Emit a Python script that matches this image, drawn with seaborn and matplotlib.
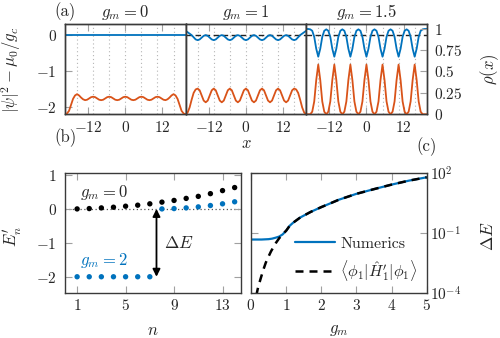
import numpy as np
import matplotlib
matplotlib.use("Agg")
import matplotlib.pyplot as plt
import seaborn as sns

sns.set_style("ticks")
plt.rcParams.update({
    "font.family": "serif",
    "font.serif": ["cmr10"],
    "mathtext.fontset": "cm",
    "axes.formatter.use_mathtext": True,
    "axes.unicode_minus": True,
    "font.size": 11,
})

BLUE = "#0072BD"
ORANGE = "#D95319"
SPINE = "#3a3a3a"
TICK = "#a0a0a0"

# ---------------- (a) density profiles ----------------
x_grid = np.linspace(-19.5, 19.5, 61)
lattice_sites = [-15.6, -10.4, -5.2, 0.0, 5.2, 10.4, 15.6]
gm_profiles = ["0", "1", "1.5"]

# |psi|^2 - mu0/gc
psi_gm0 = [0.0] * 61
psi_gm1 = [0.12, 0.08, 0.04, 0.00, -0.06, -0.12, -0.14,
           -0.12, -0.07, -0.02, 0.00, -0.02, -0.07, -0.12, -0.14,
           -0.12, -0.07, -0.02, 0.00, -0.02, -0.07, -0.12, -0.14,
           -0.12, -0.07, -0.02, 0.00, -0.02, -0.07, -0.12,
           -0.14,
           -0.12, -0.07, -0.02, 0.00, -0.02, -0.07, -0.12, -0.14,
           -0.12, -0.07, -0.02, 0.00, -0.02, -0.07, -0.12, -0.14,
           -0.12, -0.07, -0.02, 0.00, -0.02, -0.07, -0.12, -0.14,
           -0.12, -0.06, 0.00, 0.04, 0.08, 0.12]
psi_gm15 = [0.17, 0.17, 0.16, 0.12, -0.05, -0.38, -0.60,
            -0.38, -0.05, 0.12, 0.16, 0.12, -0.05, -0.38, -0.60,
            -0.38, -0.05, 0.12, 0.16, 0.12, -0.05, -0.38, -0.60,
            -0.38, -0.05, 0.12, 0.16, 0.12, -0.05, -0.38,
            -0.60,
            -0.38, -0.05, 0.12, 0.16, 0.12, -0.05, -0.38, -0.60,
            -0.38, -0.05, 0.12, 0.16, 0.12, -0.05, -0.38, -0.60,
            -0.38, -0.05, 0.12, 0.16, 0.12, -0.05, -0.38, -0.60,
            -0.38, -0.05, 0.12, 0.16, 0.17, 0.17]

# rho(x)
rho_gm0 = [0.00, 0.01, 0.04, 0.11, 0.18, 0.22, 0.235,
           0.22, 0.195, 0.175, 0.165, 0.17, 0.185, 0.20, 0.205,
           0.20, 0.185, 0.17, 0.165, 0.17, 0.185, 0.20, 0.205,
           0.20, 0.185, 0.17, 0.165, 0.17, 0.185, 0.20,
           0.205,
           0.20, 0.185, 0.17, 0.165, 0.17, 0.185, 0.20, 0.205,
           0.20, 0.185, 0.17, 0.165, 0.17, 0.185, 0.20, 0.205,
           0.20, 0.185, 0.17, 0.165, 0.175, 0.195, 0.22, 0.235,
           0.22, 0.18, 0.11, 0.04, 0.01, 0.00]
rho_gm1 = [0.00, 0.02, 0.08, 0.17, 0.25, 0.29, 0.30,
           0.28, 0.22, 0.16, 0.14, 0.16, 0.22, 0.28, 0.30,
           0.28, 0.22, 0.16, 0.14, 0.16, 0.22, 0.28, 0.30,
           0.28, 0.22, 0.16, 0.14, 0.16, 0.22, 0.28,
           0.30,
           0.28, 0.22, 0.16, 0.14, 0.16, 0.22, 0.28, 0.30,
           0.28, 0.22, 0.16, 0.14, 0.16, 0.22, 0.28, 0.30,
           0.28, 0.22, 0.16, 0.14, 0.16, 0.22, 0.28, 0.30,
           0.29, 0.25, 0.17, 0.08, 0.02, 0.00]
rho_gm15 = [0.00, 0.00, 0.00, 0.03, 0.15, 0.40, 0.58,
            0.40, 0.15, 0.03, 0.00, 0.03, 0.15, 0.40, 0.58,
            0.40, 0.15, 0.03, 0.00, 0.03, 0.15, 0.40, 0.58,
            0.40, 0.15, 0.03, 0.00, 0.03, 0.15, 0.40,
            0.58,
            0.40, 0.15, 0.03, 0.00, 0.03, 0.15, 0.40, 0.58,
            0.40, 0.15, 0.03, 0.00, 0.03, 0.15, 0.40, 0.58,
            0.40, 0.15, 0.03, 0.00, 0.03, 0.15, 0.40, 0.58,
            0.40, 0.15, 0.03, 0.00, 0.00, 0.00]

x_ticks_a = [-12, 0, 12]
x_ticklabels_a = ["$-12$", "$0$", "$12$"]
psi_ticks = [-2, -1, 0]
psi_ticklabels = ["$-2$", "$-1$", "$0$"]
rho_ticks = [0, 0.25, 0.5, 0.75, 1]
rho_ticklabels = ["$0$", "$0.25$", "$0.5$", "$0.75$", "$1$"]

# ---------------- (b) spectrum ----------------
n_levels = list(range(1, 15))
E_gm0 = [0.0, 0.01, 0.03, 0.05, 0.08, 0.11, 0.15, 0.20, 0.25, 0.31, 0.37, 0.45, 0.54, 0.63]
E_gm2 = [-2.0, -2.0, -2.0, -2.0, -2.0, -2.0, -2.0, 0.0, 0.01, 0.03, 0.06, 0.10, 0.15, 0.21]
n_ticks = [1, 5, 9, 13]
E_ticks = [-2, -1, 0, 1]
E_ticklabels = ["$-2$", "$-1$", "$0$", "$1$"]

# ---------------- (c) gap ----------------
gm_num = [0.0, 0.3, 0.5, 0.6, 0.7, 0.8, 0.9, 1.0, 1.1, 1.2, 1.4, 1.7, 2.0, 2.2, 2.5,
          3.0, 3.5, 4.0, 4.5, 5.0]
dE_num = [0.047, 0.047, 0.049, 0.052, 0.058, 0.066, 0.085, 0.13, 0.23, 0.33, 0.60, 1.15,
          2.0, 2.8, 4.7, 9.3, 16.0, 27.0, 43.0, 63.0]
gm_pt = [0.15, 0.2, 0.28, 0.35, 0.42, 0.5, 0.57, 0.65, 0.71, 0.8, 0.9, 1.0, 1.1, 1.2,
         1.4, 1.7, 2.0, 2.2, 2.5, 3.0, 3.5, 4.0, 4.5, 5.0]
dE_pt = [7.1e-5, 1.8e-4, 5.5e-4, 1.4e-3, 3.2e-3, 6.6e-3, 0.012, 0.021, 0.032, 0.054,
         0.087, 0.13, 0.23, 0.33, 0.60, 1.15, 2.0, 2.8, 4.7, 9.3, 16.0, 27.0, 43.0, 63.0]
gm_ticks = [0, 1, 2, 3, 4, 5]
dE_ticks = [1e-4, 1e-1, 1e2]
dE_ticklabels = ["$10^{-4}$", "$10^{-1}$", "$10^{2}$"]

W, H = 500, 338
fig = plt.figure(figsize=(W / 100, H / 100), dpi=100)


def px_axes(left, top, right, bottom):
    return fig.add_axes([left / W, 1 - bottom / H, (right - left) / W, (bottom - top) / H])


def style_spines(ax):
    for s in ax.spines.values():
        s.set_color(SPINE)
        s.set_linewidth(1.0)
        s.set_visible(True)


tick_kw = dict(direction="in", color=TICK, length=5, width=0.8, labelsize=11)
LABEL_FS = 12

# ---- panel (a) ----
panel_edges = [65.0, 185.6, 306.2, 426.7]
psi_sets = [psi_gm0, psi_gm1, psi_gm15]
rho_sets = [rho_gm0, rho_gm1, rho_gm15]
for i in range(3):
    ax = px_axes(panel_edges[i], 24.3, panel_edges[i + 1], 114.3)
    axr = ax.twinx()
    for s in lattice_sites:
        ax.axvline(s, color="#b5b5b5", ls=(0, (1, 2.5)), lw=0.8, zorder=0)
    if i > 0:
        ax.axhline(0, color="#222222", ls=(0, (4, 2.5)), lw=1.0, zorder=1)
    sns.lineplot(x=x_grid, y=psi_sets[i], ax=ax, color=BLUE, lw=1.3, zorder=2)
    sns.lineplot(x=x_grid, y=rho_sets[i], ax=axr, color=ORANGE, lw=1.3)
    ax.set_xlim(-19.5, 19.5)
    ax.set_ylim(-2.2, 0.3)
    axr.set_ylim(0, 1.05)
    ax.set_xticks(x_ticks_a)
    ax.set_xticklabels(x_ticklabels_a)
    ax.tick_params(axis="x", top=True, pad=4, **tick_kw)
    ax.set_xlabel("")
    if i == 0:
        ax.set_yticks(psi_ticks)
        ax.set_yticklabels(psi_ticklabels)
        ax.tick_params(axis="y", pad=6, **tick_kw)
        ax.set_ylabel(r"$|\psi|^2-\mu_0/g_c$", fontsize=LABEL_FS)
        ax.yaxis.set_label_coords(-0.35, 0.5)
    else:
        ax.set_yticks([])
        ax.set_ylabel("")
    if i == 2:
        axr.set_yticks(rho_ticks)
        axr.set_yticklabels(rho_ticklabels)
        axr.tick_params(axis="y", pad=5, **tick_kw)
        axr.set_ylabel(r"$\rho(x)$", fontsize=LABEL_FS, rotation=90)
        axr.yaxis.set_label_coords(1.43, 0.5)
    else:
        axr.set_yticks([])
        axr.set_ylabel("")
    style_spines(ax)
    style_spines(axr)
    fig.text((panel_edges[i] + panel_edges[i + 1]) / 2 / W, 1 - 12 / H,
             rf"$g_m = {gm_profiles[i]}$", ha="center", va="center", fontsize=LABEL_FS)

fig.text(54 / W, 1 - 12 / H, "(a)", ha="left", va="center", fontsize=LABEL_FS)
fig.text(246 / W, 1 - 143 / H, "$x$", ha="center", va="center", fontsize=LABEL_FS)
fig.text(54 / W, 1 - 138 / H, "(b)", ha="left", va="center", fontsize=LABEL_FS)
fig.text(416 / W, 1 - 147 / H, "(c)", ha="left", va="center", fontsize=LABEL_FS)

# ---- panel (b) ----
axb = px_axes(65, 173.3, 240.7, 292.7)
axb.axhline(0, color="#555555", ls=(0, (1, 2)), lw=0.9, zorder=0)
sns.scatterplot(x=n_levels, y=E_gm0, ax=axb, color="black", s=15, edgecolor="none", zorder=3)
sns.scatterplot(x=n_levels, y=E_gm2, ax=axb, color=BLUE, s=15, edgecolor="none", zorder=3)
axb.annotate("", xy=(7.55, E_gm0[0]), xytext=(7.55, E_gm2[0]),
             arrowprops=dict(arrowstyle="<|-|>", color="black", lw=1.3,
                             shrinkA=0, shrinkB=0, mutation_scale=11))
axb.text(8.2, -1.0, r"$\Delta E$", ha="left", va="center", fontsize=LABEL_FS + 0.5)
axb.text(1.2, 0.47, r"$g_m = 0$", ha="left", va="center", fontsize=LABEL_FS)
axb.text(1.2, -1.52, r"$g_m = 2$", ha="left", va="center", fontsize=LABEL_FS, color=BLUE)
axb.set_xlim(0, 14.5)
axb.set_ylim(-2.47, 1.05)
axb.set_xticks(n_ticks)
axb.set_xticklabels([f"${t}$" for t in n_ticks])
axb.set_yticks(E_ticks)
axb.set_yticklabels(E_ticklabels)
axb.tick_params(axis="x", top=True, pad=3.5, **tick_kw)
axb.tick_params(axis="y", right=True, pad=6, **tick_kw)
axb.set_xlabel("$n$", fontsize=LABEL_FS)
axb.xaxis.set_label_coords(0.5, -0.25)
axb.set_ylabel(r"$E_n'$", fontsize=LABEL_FS)
axb.yaxis.set_label_coords(-0.235, 0.47)
style_spines(axb)

# ---- panel (c) ----
axc = px_axes(251, 173.3, 426.7, 292.7)
sns.lineplot(x=gm_num, y=dE_num, ax=axc, color=BLUE, lw=1.6, label="Numerics")
sns.lineplot(x=gm_pt, y=dE_pt, ax=axc, color="black", lw=1.8, ls=(0, (3.2, 2.4)),
             label=r"$\langle\phi_1|\hat{H}_1'|\phi_1\rangle$")
axc.set_yscale("log")
axc.set_xlim(0, 5)
axc.set_ylim(1e-4, 1e2)
axc.set_xticks(gm_ticks)
axc.set_xticklabels([f"${t}$" for t in gm_ticks])
axc.set_yticks(dE_ticks)
axc.set_yticklabels(dE_ticklabels)
axc.yaxis.set_minor_locator(matplotlib.ticker.NullLocator())
axc.yaxis.tick_right()
axc.tick_params(axis="x", top=True, pad=3.5, **tick_kw)
axc.tick_params(axis="y", left=True, right=True, pad=2.5, **tick_kw)
axc.set_xlabel("$g_m$", fontsize=LABEL_FS)
axc.xaxis.set_label_coords(0.5, -0.25)
axc.yaxis.set_label_position("right")
axc.set_ylabel(r"$\Delta E$", fontsize=LABEL_FS + 0.5, rotation=90)
axc.yaxis.set_label_coords(1.305, 0.47)
axc.legend(loc="lower right", bbox_to_anchor=(1.01, -0.01), frameon=False, fontsize=LABEL_FS - 0.5,
           handlelength=2.5, handletextpad=0.35, labelspacing=0.45, borderaxespad=0.3)
style_spines(axc)

fig.savefig("out.png", dpi=100)
